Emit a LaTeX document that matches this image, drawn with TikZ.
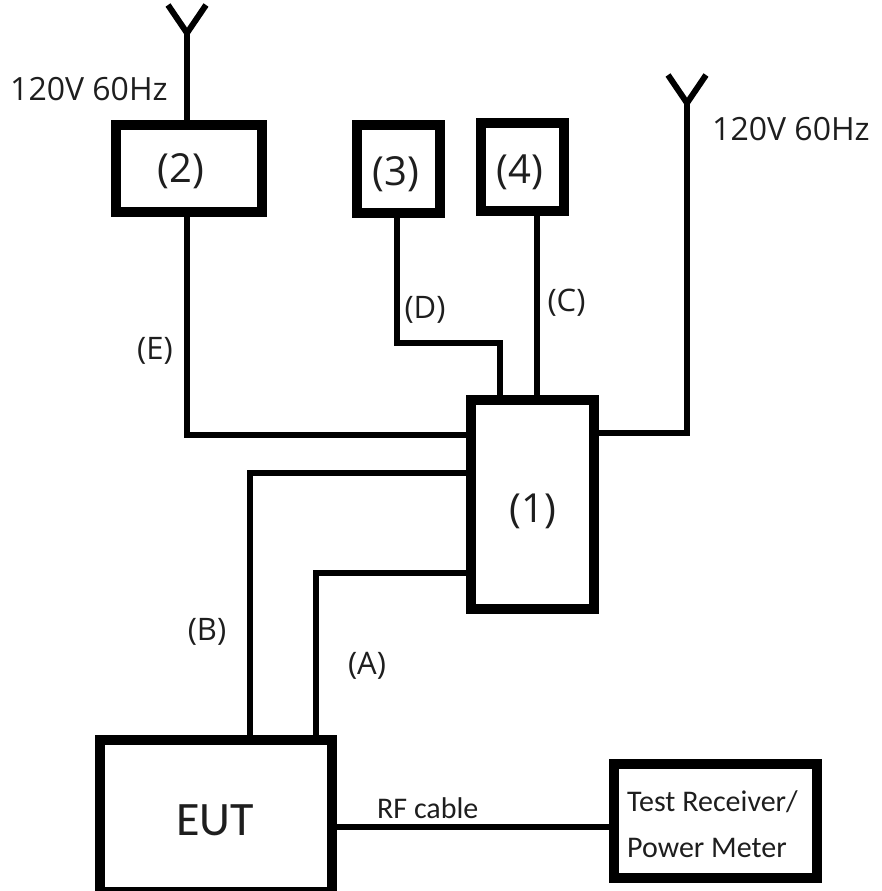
\documentclass[tikz,border=0pt]{standalone}
\usepackage{fontspec}
\setmainfont{Open Sans}
\newfontfamily\carl{Carlito}
\definecolor{textc}{RGB}{30,30,30}
\begin{document}
\begin{tikzpicture}[x=1pt,y=-1pt,
  box/.style={draw, line width=10pt, inner sep=0pt},
  wire/.style={line width=6pt, line join=miter},
  lbl/.style={inner sep=0pt, text=textc},
  big/.style={lbl, font=\fontsize{40}{48}\selectfont},
  mid/.style={lbl, font=\fontsize{31}{37}\selectfont},
  volt/.style={lbl, font=\fontsize{32}{38}\selectfont},
  cal/.style={lbl, font=\carl\fontsize{30}{46}\selectfont}]
\useasboundingbox (0,0) rectangle (881,891);

% boxes
\node[box, minimum width=146pt, minimum height=87pt] (n2) at (189,168.5) {};
\node[box, minimum width=83pt, minimum height=88pt] (n3) at (398.5,169) {};
\node[box, minimum width=83pt, minimum height=88pt] (n4) at (522.5,167) {};
\node[box, minimum width=123pt, minimum height=209pt] (n1) at (532.5,504.5) {};
\node[box, minimum width=232pt, minimum height=152pt] (eut) at (216,816) {};
\node[box, minimum width=203pt, minimum height=114pt] (rx) at (715.5,821) {};

% box texts
\node[big] (t2) at (181,171) {(2)};
\node[big] (t3) at (396,174) {(3)};
\node[big] (t4) at (520,172) {(4)};
\node[big] (t1) at (533,511) {(1)};
\node[lbl, font=\carl\fontsize{48}{56}\selectfont] (teut) at (215,820) {EUT};
\node[cal, anchor=base west, align=left] (trx) at (627,857) {Test Receiver/\\Power Meter};

% antennas
\coordinate (ant1) at (187,33);
\coordinate (ant2) at (687,103);
\draw[wire] (ant1) ++(-19,-28) -- (ant1) -- ++(19,-28);
\draw[wire] (ant2) ++(-19,-28) -- (ant2) -- ++(19,-28);
\draw[wire] (n2.north -| ant1) -- (ant1);
\draw[wire] (n1.east |- 0,433) -| (ant2);

% cables
\draw[wire] (n2.south -| ant1) |- (n1.west |- 0,435);
\draw[wire] (n3.south -| 397,0) |- (500,343) -- (n1.north -| 500,0);
\draw[wire] (n4.south -| 537,0) -- (n1.north -| 537,0);
\draw[wire] (n1.west |- 0,473) -| (eut.north -| 250,0);
\draw[wire] (n1.west |- 0,573) -| (eut.north -| 316,0);
\draw[wire] (eut.east |- 0,827) -- (rx.west |- 0,827);

% cable labels
\node[mid] (lE) at (155,351) {(E)};
\node[mid] (lD) at (425,310) {(D)};
\node[mid] (lC) at (566.5,303) {(C)};
\node[mid] (lB) at (207,632) {(B)};
\node[mid] (lA) at (367,666) {(A)};
\node[cal, anchor=base west] (lrf) at (377,818) {RF cable};

% supply labels
\node[volt, anchor=base west] (v1) at (10,100) {120V 60Hz};
\node[volt, anchor=base west] (v2) at (712,140) {120V 60Hz};
\end{tikzpicture}
\end{document}
